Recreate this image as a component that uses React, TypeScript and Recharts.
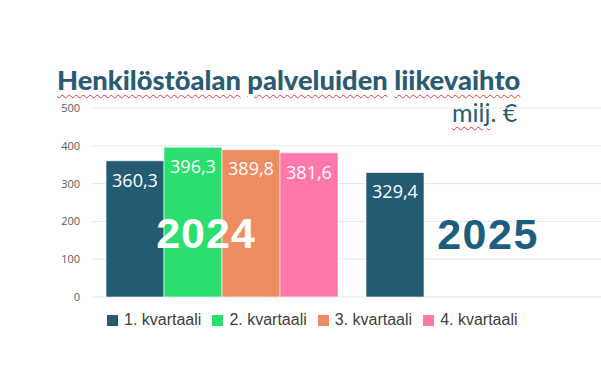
import { BarChart, Bar, XAxis, YAxis, CartesianGrid, Legend, LabelList } from "recharts";

const years = ["2024", "2025"];
const q1 = [360.3, 329.4];
const q2 = [396.3, null];
const q3 = [389.8, null];
const q4 = [381.6, null];
const yTicks = [0, 100, 200, 300, 400, 500];

const SERIES = [
  { key: "q1", name: "1. kvartaali", color: "#245B73", values: q1 },
  { key: "q2", name: "2. kvartaali", color: "#2ADF6E", values: q2 },
  { key: "q3", name: "3. kvartaali", color: "#EE8D62", values: q3 },
  { key: "q4", name: "4. kvartaali", color: "#FF78A9", values: q4 },
];

const data = years.map((year, i) => {
  const row: Record<string, string | number | null> = { year };
  SERIES.forEach((s) => {
    row[s.key] = s.values[i];
  });
  return row;
});

const fmt = (v: unknown) =>
  v == null ? "" : Number(v).toFixed(1).replace(".", ",");

const wavy = {
  textDecoration: "underline wavy #e53935",
  textDecorationThickness: "1px",
  textUnderlineOffset: "4px",
};

function LegendContent() {
  return (
    <div style={{ display: "flex", fontFamily: "Liberation Sans, Arial, sans-serif", fontSize: 16, color: "#404040" }}>
      {SERIES.map((s) => (
        <div key={s.key} style={{ display: "flex", alignItems: "center", marginRight: 11 }}>
          <span style={{ width: 11, height: 11, background: s.color, marginRight: 6, display: "inline-block" }} />
          <span>{s.name}</span>
        </div>
      ))}
    </div>
  );
}

export default function App() {
  return (
    <div style={{ position: "fixed", left: 0, top: 0, width: 601, height: 388, overflow: "hidden", background: "#fff" }}>
      <div
        style={{
          position: "absolute",
          left: 57,
          top: 63,
          fontFamily: "Lato, sans-serif",
          fontWeight: 900,
          fontSize: 27.3,
          color: "#2A5B73",
          whiteSpace: "nowrap",
        }}
      >
        <span style={wavy}>Henkilöstöalan</span> <span style={wavy}>palveluiden</span>{" "}
        <span style={wavy}>liikevaihto</span>
      </div>
      <div
        style={{
          position: "absolute",
          left: 452,
          top: 97,
          fontFamily: "Lato, sans-serif",
          fontSize: 25,
          color: "#2A5B73",
          whiteSpace: "nowrap",
        }}
      >
        <span style={wavy}>milj</span>. €
      </div>
      <BarChart
        width={612}
        height={388}
        data={data}
        margin={{ top: 108, right: 0, bottom: 91, left: 0 }}
        barCategoryGap={14}
        barGap={0}
      >
        <CartesianGrid vertical={false} stroke="#dfe9f2" />
        <XAxis dataKey="year" hide />
        <YAxis
          width={92}
          domain={[0, 500]}
          ticks={yTicks}
          axisLine={false}
          tickLine={false}
          tickSize={0}
          tickMargin={12}
          tick={{ fill: "#595959", fontSize: 11, fontFamily: "Open Sans, sans-serif" }}
        />
        <Legend
          verticalAlign="middle"
          align="center"
          layout="horizontal"
          wrapperStyle={{ top: 311, left: 107, width: 460 }}
          content={<LegendContent />}
        />
        {SERIES.map((s) => (
          <Bar
            key={s.key}
            dataKey={s.key}
            name={s.name}
            fill={s.color}
            stroke="rgba(255,255,255,0.6)"
            strokeWidth={1}
            isAnimationActive={false}
          >
            <LabelList
              dataKey={s.key}
              position="insideTop"
              offset={13}
              formatter={fmt}
              fill="#ffffff"
              style={{ fontSize: 18, fontFamily: "Open Sans, sans-serif" }}
            />
          </Bar>
        ))}
      </BarChart>
      <div
        style={{
          position: "absolute",
          left: 156,
          top: 209,
          width: 100,
          textAlign: "center",
          fontFamily: "Liberation Sans, Arial, sans-serif",
          fontWeight: 700,
          fontSize: 43,
          letterSpacing: 1,
          color: "#ffffff",
          lineHeight: "48px",
        }}
      >
        2024
      </div>
      <div
        style={{
          position: "absolute",
          left: 436,
          top: 210,
          width: 104,
          textAlign: "center",
          fontFamily: "Liberation Sans, Arial, sans-serif",
          fontWeight: 700,
          fontSize: 43,
          letterSpacing: 1.5,
          color: "#1D5E80",
          lineHeight: "48px",
        }}
      >
        2025
      </div>
    </div>
  );
}
